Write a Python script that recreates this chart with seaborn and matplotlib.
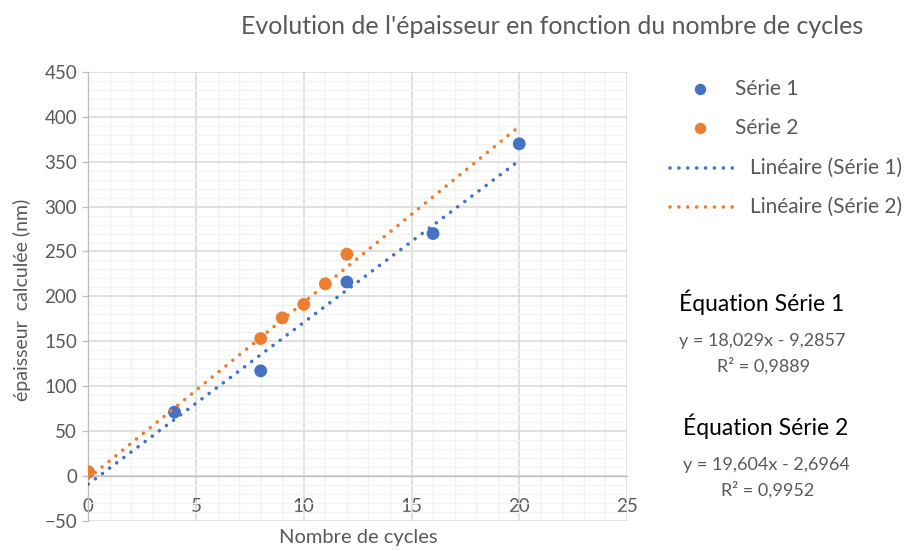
import numpy as np
import pandas as pd
import matplotlib
matplotlib.use("Agg")
import matplotlib.pyplot as plt
from matplotlib.lines import Line2D
from matplotlib.ticker import MultipleLocator
import seaborn as sns

# Measured thickness per number of deposition cycles
cycles_s1 = [0, 4, 8, 12, 16, 20]
thick_s1 = [4, 71, 117, 216, 270, 370]
cycles_s2 = [0, 8, 9, 10, 11, 12]
thick_s2 = [4.5, 153, 176, 191, 214, 247]

# Linear fits (slope, intercept, R²)
fit_s1 = (18.029, -9.2857, 0.9889)
fit_s2 = (19.604, -2.6964, 0.9952)

series_names = ["Série 1", "Série 2"]
trend_names = ["Linéaire (Série 1)", "Linéaire (Série 2)"]
colors = ["#4472C4", "#ED7D31"]

sns.set_theme(style="white")
plt.rcParams["font.family"] = ["Lato", "DejaVu Sans"]

W, H = 908, 551
fig = plt.figure(figsize=(W / 100, H / 100), dpi=100)


def fx(x):
    return x / W


def fy(y):
    return 1 - y / H


ax = fig.add_axes([fx(88.3), fy(520.7), fx(627) - fx(88.3), fy(72) - fy(520.7)])

points = pd.concat([
    pd.DataFrame({"cycles": cycles_s1, "ep": thick_s1, "serie": series_names[0]}),
    pd.DataFrame({"cycles": cycles_s2, "ep": thick_s2, "serie": series_names[1]}),
])

sns.scatterplot(data=points, x="cycles", y="ep", hue="serie", palette=colors,
                s=85, linewidth=0, ax=ax, legend=False, zorder=3)

DOTS = (0, (0.01, 2.45))
LW = 2.6

# Trend lines span the full x range of the data
x_all = np.array(cycles_s1 + cycles_s2)
x_fit = np.array([x_all.min(), x_all.max()])
for (slope, icpt, _), col in zip([fit_s1, fit_s2], colors):
    sns.lineplot(x=x_fit, y=slope * x_fit + icpt, color=col, ax=ax,
                 linewidth=LW, linestyle=DOTS, dash_capstyle="round", zorder=4)

ax.set_xlim(0, 25)
ax.set_ylim(-50, 450)
ax.xaxis.set_major_locator(MultipleLocator(5))
ax.xaxis.set_minor_locator(MultipleLocator(1))
ax.yaxis.set_major_locator(MultipleLocator(50))
ax.yaxis.set_minor_locator(MultipleLocator(10))

ax.grid(which="major", color="#D9D9D9", linewidth=1.1, zorder=0)
ax.grid(which="minor", color="#F2F2F2", linewidth=0.9, zorder=0)
ax.set_axisbelow(True)

for side in ["top", "right"]:
    ax.spines[side].set_visible(False)
ax.spines["bottom"].set_position(("data", 0))
ax.spines["bottom"].set_color("#BFBFBF")
ax.spines["left"].set_color("#BFBFBF")
ax.spines["bottom"].set_linewidth(1.0)
ax.spines["left"].set_linewidth(1.0)

ax.tick_params(axis="y", which="major", length=4, width=0.9, color="#BFBFBF",
               labelsize=13.5, labelcolor="#595959", pad=4, left=True)
ax.tick_params(axis="x", which="major", length=0, labelsize=13.5,
               labelcolor="#595959", pad=16, bottom=True)
ax.tick_params(which="minor", length=0)

ax.set_xlabel("")
ax.set_ylabel("")

fig.text(fx(358), fy(538), "Nombre de cycles", ha="center", va="center",
         fontsize=14.5, color="#595959")
fig.text(fx(22), fy(300), "épaisseur  calculée (nm)", ha="center", va="center",
         rotation=90, fontsize=14, color="#595959")
fig.text(fx(552), fy(26), "Evolution de l'épaisseur en fonction du nombre de cycles",
         ha="center", va="center", fontsize=18, color="#595959")

# Legend
for i, (name, col) in enumerate(zip(series_names, colors)):
    yy = [89, 128][i]
    fig.add_artist(Line2D([fx(700)], [fy(yy)], marker="o", markersize=7.2,
                          color=col, linestyle="none", transform=fig.transFigure))
    fig.text(fx(735), fy(yy), name, ha="left", va="center", fontsize=15,
             color="#595959")
for i, (name, col) in enumerate(zip(trend_names, colors)):
    yy = [168, 207][i]
    fig.add_artist(Line2D([fx(670), fx(737)], [fy(yy), fy(yy)], color=col,
                          linewidth=LW, linestyle=DOTS, dash_capstyle="round",
                          transform=fig.transFigure))
    fig.text(fx(750), fy(yy), name, ha="left", va="center", fontsize=15,
             color="#595959")


def fmt(v, nd):
    return f"{abs(v):.{nd}f}".replace(".", ",")


# Fit equations
for i, ((slope, icpt, r2), name) in enumerate(zip([fit_s1, fit_s2], series_names)):
    y0 = [302, 426][i]
    xc = [762, 766][i]
    sign = "-" if icpt < 0 else "+"
    fig.text(fx(xc), fy(y0), f"Équation {name}", ha="center", va="center",
             fontsize=16.5, color="black")
    fig.text(fx(xc), fy(y0 + 39), f"y = {fmt(slope, 3)}x {sign} {fmt(icpt, 4)}",
             ha="center", va="center", fontsize=13, color="#595959")
    fig.text(fx(xc + 2), fy(y0 + 64), f"R² = {fmt(r2, 4)}",
             ha="center", va="center", fontsize=13, color="#595959")

fig.savefig("out.png", dpi=100, facecolor="white")
